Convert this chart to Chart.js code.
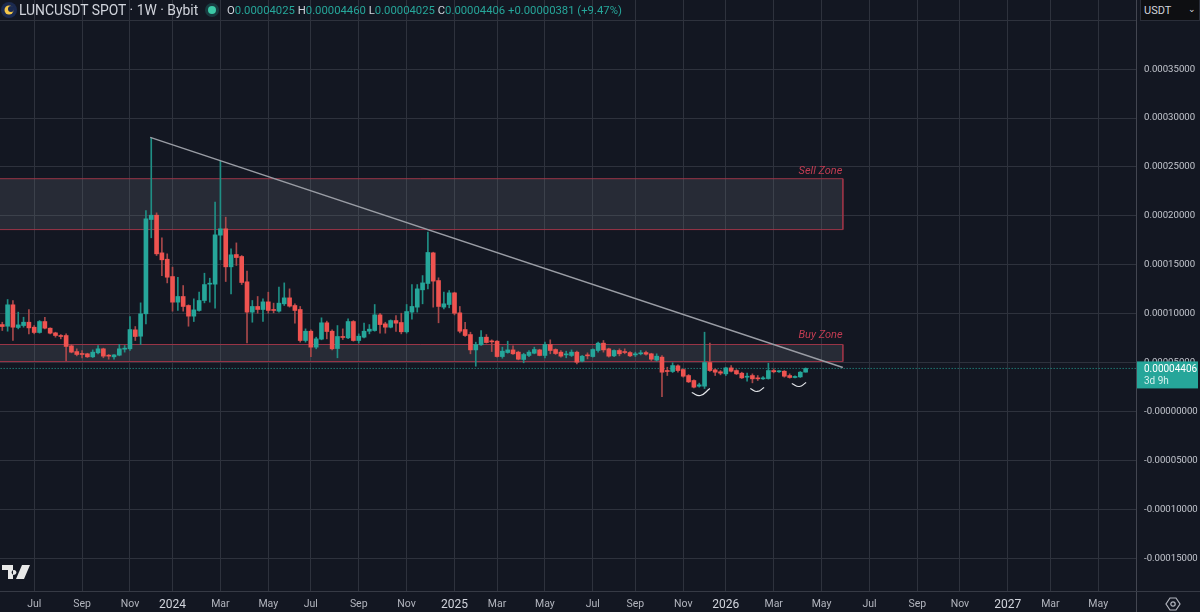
<!DOCTYPE html>
<html lang="en">
<head>
<meta charset="UTF-8">
<title>LUNCUSDT SPOT 1W</title>
<script src="https://cdn.jsdelivr.net/npm/chart.js@4"></script>
<style>
    html, body { margin: 0; padding: 0; background: #131722; }
    body { width: 1200px; height: 612px; overflow: hidden; position: relative; font-family: Roboto, Arial, sans-serif; }
    #chart { position: absolute; left: 0; top: 0; }
    #title { position: absolute; left: 19px; top: 1px; font-size: 13.9px; color: #d1d4dc; white-space: nowrap; line-height: 18px; }
    #legend { position: absolute; left: 227px; top: 2px; font-size: 11.3px; color: #d1d4dc; white-space: nowrap; line-height: 17px; }
    #legend .v { color: #26a69a; }
    #dot { position: absolute; left: 208px; top: 6px; width: 8px; height: 8px; border-radius: 50%; background: #3cc8a6; box-shadow: 0 0 0 3px rgba(38,166,154,.25); }
    #coin { position: absolute; left: 1px; top: 2px; }
    #usdt { position: absolute; left: 1140px; top: -1px; width: 60px; height: 22px; background: #0e0f12; border: 1px solid #2a2e39; box-sizing: border-box; color: #d1d4dc; font-size: 11px; line-height: 21px; padding-left: 3px; }
    #usdt span { position: absolute; right: 3px; top: -1px; font-size: 9px; }
    #vline { position: absolute; left: 1136px; top: 0; width: 1px; height: 612px; background: #434651; }
    #hline { position: absolute; left: 0; top: 591px; width: 1200px; height: 1px; background: #363a45; }
    #tv { position: absolute; left: 2px; top: 565px; }
    #gear { position: absolute; left: 1165px; top: 596px; }
</style>
</head>
<body>
<canvas id="chart" width="1200" height="612"></canvas>
<div id="vline"></div>
<div id="hline"></div>
<svg id="coin" width="16" height="16" viewBox="0 0 16 16"><circle cx="8" cy="8" r="8" fill="#1b2a50"/><circle cx="8" cy="8" r="4.5" fill="#f3c64a"/><circle cx="10" cy="7" r="3" fill="#1b2a50"/></svg>
<div id="title">LUNCUSDT SPOT · 1W · Bybit</div>
<div id="legend">O<span class="v">0.00004025</span> H<span class="v">0.00004460</span> L<span class="v">0.00004025</span> C<span class="v">0.00004406</span> <span class="v">+0.00000381 (+9.47%)</span></div>
<div id="dot"></div>
<div id="usdt">USDT<span>⌄</span></div>
<svg id="tv" width="28" height="15" viewBox="0 0 28 15"><path d="M0 0h11v14H6V5H0z M12 5a2.4 2.4 0 1 0 .01 0z M20 0h8l-6 14h-8z" fill="#e8e8e8"/></svg>
<svg id="gear" width="16" height="16" viewBox="0 0 16 16"><path d="M5 2h6l4 6-4 6H5L1 8z" fill="none" stroke="#b2b5be" stroke-width="1.2"/><circle cx="8" cy="8" r="2.2" fill="none" stroke="#b2b5be" stroke-width="1.2"/></svg>
<script>
// week numbers counted from the first week of 2024, prices in units of 0.00001
const weeks = [-32,-31,-30,-29,-28,-27,-26,-25,-24,-23,-22,-21,-20,-19,-18,-17,-16,-15,-14,-13,-12,-11,-10,-9,-8,-7,-6,-5,-4,-3,-2,-1,
    0,1,2,3,4,5,6,7,8,9,10,11,12,13,14,15,16,17,18,19,20,21,22,23,24,25,26,27,28,29,30,31,32,33,34,35,36,37,38,39,40,41,42,43,44,45,46,47,48,49,50,51,
    52,53,54,55,56,57,58,59,60,61,62,63,64,65,66,67,68,69,70,71,72,73,74,75,76,77,78,79,80,81,82,83,84,85,86,87,88,89,90,91,92,93,94,95,96,97,98,99,
    100,101,102,103,104,105,106,107,108,109,110,111,112,113,114,115,116,117,118,119];

const opens = [8.89,8.72,10.91,8.59,8.79,9.13,8.62,8.08,9.20,8.52,8.04,7.77,7.77,6.71,6.13,5.90,5.90,5.59,6.00,6.41,5.73,5.59,5.76,6.37,6.41,8.35,7.70,9.99,19.63,20.07,16.22,15.57,
    13.80,11.18,11.76,10.84,9.75,10.33,11.35,13.02,13.02,18.03,18.68,14.79,16.05,15.85,13.26,10.16,10.74,10.43,11.21,10.43,10.26,11.01,11.62,10.84,10.43,7.26,8.21,6.58,7.40,9.07,8.21,6.44,7.67,7.53,9.20,7.26,7.60,8.21,8.28,9.88,8.96,8.62,9.30,9.10,8.15,10.16,10.67,12.44,13.09,16.22,13.39,10.67,
    10.94,12.13,10.09,8.38,7.87,6.30,6.82,7.60,7.19,7.19,5.62,6.03,6.30,6.07,5.32,5.73,5.96,6.30,5.73,6.85,6.34,6.07,5.79,5.73,6.07,5.15,5.79,5.62,6.24,6.99,6.41,5.69,6.24,6.10,6.03,5.79,5.90,6.03,5.90,5.25,5.56,4.19,4.09,4.67,4.29,3.68,3.17,2.59,
    2.59,5.01,4.26,4.06,3.85,4.46,4.19,3.92,3.51,3.68,3.44,3.34,3.37,4.19,4.06,4.12,3.68,3.48,3.54,4.025];
const highs = [9.13,11.45,11.35,10.16,9.64,10.43,8.79,9.30,9.64,8.55,8.11,7.87,7.94,6.85,6.41,6.24,5.96,6.30,6.75,6.48,5.83,5.83,6.85,6.75,9.71,8.69,11.11,20.55,27.98,20.31,17.76,16.12,
    14.76,13.73,12.88,10.91,11.52,12.20,14.14,13.63,21.40,25.59,19.87,16.63,17.24,15.95,14.35,11.35,11.76,11.52,12.20,11.08,12.71,13.15,12.54,11.01,10.74,8.45,8.35,7.60,9.58,9.24,8.35,8.79,8.45,9.47,9.30,7.94,9.03,8.89,10.94,10.05,9.13,9.37,9.82,10.05,10.94,12.98,12.98,13.90,18.34,16.29,13.67,12.20,
    12.37,12.20,10.74,9.13,8.11,7.09,8.28,7.87,7.33,7.26,6.58,7.19,6.71,6.17,5.96,6.24,6.58,6.37,7.09,7.33,6.41,6.24,6.17,6.30,6.17,5.73,6.00,6.41,7.09,7.26,6.48,6.30,6.41,6.41,6.13,6.07,6.24,6.17,5.96,5.90,5.73,4.53,4.98,4.77,4.36,3.78,3.24,2.90,
    8.11,6.99,4.36,4.19,4.53,4.70,4.29,4.02,3.92,3.85,3.68,3.58,4.94,4.36,4.19,4.19,3.85,3.65,4.09,4.46];
const lows = [8.28,8.21,7.26,8.45,8.62,7.94,7.94,8.01,8.45,7.94,7.60,7.43,5.21,6.00,5.69,5.49,5.52,5.52,5.90,5.49,5.35,5.35,5.69,6.07,6.24,7.26,6.85,8.96,17.76,15.95,13.90,13.15,
    10.26,10.33,10.26,8.72,9.20,10.26,11.11,11.18,10.56,15.51,13.29,12.03,14.93,12.98,7.02,9.13,10.05,9.20,10.05,10.09,10.16,10.84,10.67,9.03,7.09,7.09,5.62,6.41,7.33,7.43,6.30,5.49,7.36,7.46,7.19,6.99,7.53,7.94,8.21,8.01,8.01,8.55,8.18,7.94,8.01,9.44,10.16,11.01,12.54,10.67,9.07,10.50,
    10.60,9.88,8.04,7.67,5.90,4.63,6.75,6.99,6.13,5.56,5.45,5.96,5.83,5.28,4.98,5.62,5.90,5.69,5.49,5.90,5.83,5.56,5.49,5.62,4.87,5.08,5.38,5.56,6.07,6.07,5.56,5.62,5.69,5.90,5.62,5.62,5.79,5.76,5.21,5.15,1.53,3.68,3.99,4.02,3.51,2.96,2.42,2.49,
    2.35,4.09,3.68,3.75,3.68,4.06,3.78,3.37,3.10,2.93,3.17,3.27,3.31,3.95,3.99,3.51,3.41,3.44,3.48,4.025];
const closes = [8.69,10.91,8.62,8.86,9.13,8.55,8.08,9.20,8.52,8.01,7.77,7.67,6.65,6.07,5.83,5.83,5.59,6.07,6.41,5.66,5.66,5.79,6.41,6.48,8.38,7.67,9.99,19.70,20.07,16.12,15.51,13.73,
    11.18,11.76,10.74,9.75,10.39,11.35,12.98,13.09,18.06,18.68,14.79,16.02,15.74,13.19,10.16,10.74,10.43,11.21,10.33,10.33,11.08,11.62,10.77,10.33,7.26,8.21,6.58,7.43,9.07,8.18,6.41,7.67,7.57,9.20,7.26,7.70,8.21,8.42,9.88,8.89,8.62,9.30,9.03,8.15,10.22,10.74,12.54,13.15,16.26,13.33,10.74,11.01,
    12.13,10.05,8.21,7.77,6.30,6.85,7.60,7.05,7.12,5.62,6.17,6.30,5.90,5.35,5.83,6.07,6.34,5.73,6.85,6.24,5.93,5.66,5.86,6.07,5.04,5.66,5.69,6.34,6.99,6.30,5.66,6.24,5.90,6.03,5.69,5.90,6.00,5.86,5.35,5.66,4.02,4.09,4.70,4.19,3.61,3.03,2.49,2.73,
    5.01,4.19,4.02,3.92,4.46,4.12,3.85,3.44,3.58,3.34,3.34,3.44,4.19,4.06,4.12,3.61,3.48,3.58,4.02,4.406];

const xTickWeeks = [-26,-17,-8,0,9,18,26,35,44,53,61,70,79,87,96,104,113,122,131,140,148,157,165,174];
const xTickLabels = ['Jul','Sep','Nov','2024','Mar','May','Jul','Sep','Nov','2025','Mar','May','Jul','Sep','Nov','2026','Mar','May','Jul','Sep','Nov','2027','Mar','May'];
const yTickValues = [40,35,30,25,20,15,10,5,0,-5,-10,-15];
const yTickLabels = ['','0.00035000','0.00030000','0.00025000','0.00020000','0.00015000','0.00010000','0.00005000','-0.00000000','-0.00005000','-0.00010000','-0.00015000'];

const sellZoneWeeks = [-34,126,126,-34,-34];
const sellZonePrices = [23.8,23.8,18.6,18.6,23.8];
const buyZoneWeeks = [-34,126,126,-34,-34];
const buyZonePrices = [6.85,6.85,5.11,5.11,6.85];
const trendWeeks = [-4.2,126];
const trendPrices = [28.02,4.5];
const priceLineWeeks = [-34,182];
const priceLinePrices = [4.406,4.406];
const arcWeeks = [[97.6,99.2,101],[108.6,109.9,111.2],[116.4,117.8,119.1]];
const arcPrices = [[1.94,1.64,2.35],[2.35,2.05,2.45],[2.86,2.56,2.96]];

const UP = '#26a69a', DOWN = '#ef5350';
const UP_WICK = '#1f8f85', DOWN_WICK = '#a8484a';
const isUp = i => closes[i] >= opens[i];
const isYear = v => xTickLabels[xTickWeeks.indexOf(v)].length === 4;

function pts(xs, ys) {
    return xs.map((x, i) => ({ x: x, y: ys[i] }));
}

function lineSet(xs, ys, color, width, extra) {
    return Object.assign({
        type: 'line', data: pts(xs, ys), borderColor: color, borderWidth: width,
        pointRadius: 0, tension: 0, fill: false, order: 1
    }, extra || {});
}

// price tag on the axis and the two zone labels
const overlay = {
    id: 'overlay',
    afterDraw(chart) {
        const { ctx, scales } = chart;
        const y = scales.y.getPixelForValue(closes[closes.length - 1]);
        ctx.save();
        ctx.fillStyle = UP;
        ctx.fillRect(1137, y - 7, 61, 27);
        ctx.textBaseline = 'middle';
        ctx.textAlign = 'left';
        ctx.font = '10px Roboto';
        ctx.fillStyle = '#ffffff';
        ctx.fillText('0.00004406', 1144, y + 1);
        ctx.fillStyle = '#d6f0ed';
        ctx.fillText('3d 9h', 1144, y + 13);
        ctx.textAlign = 'center';
        ctx.font = 'italic 11px Roboto';
        ctx.fillStyle = '#c23c52';
        ctx.fillText('Sell Zone', scales.x.getPixelForValue(121.8), scales.y.getPixelForValue(24.6));
        ctx.fillText('Buy Zone', scales.x.getPixelForValue(121.8), scales.y.getPixelForValue(7.8));
        ctx.restore();
    }
};

new Chart(document.getElementById('chart'), {
    type: 'bar',
    plugins: [overlay],
    data: {
        datasets: [
            lineSet(sellZoneWeeks, sellZonePrices, '#9a3547', 1, { fill: 'shape', backgroundColor: 'rgba(120,123,134,0.2)', order: 6 }),
            lineSet(buyZoneWeeks, buyZonePrices, '#9a3547', 1, { fill: 'shape', backgroundColor: 'rgba(120,123,134,0.2)', order: 6 }),
            lineSet(priceLineWeeks, priceLinePrices, UP, 1, { borderDash: [1, 2], order: 5 }),
            {
                label: 'wicks',
                data: weeks.map((w, i) => ({ x: w, y: [lows[i], highs[i]] })),
                backgroundColor: ctx => isUp(ctx.dataIndex) ? UP_WICK : DOWN_WICK,
                barThickness: 1, grouped: false, order: 4
            },
            {
                label: 'bodies',
                data: weeks.map((w, i) => ({ x: w, y: [opens[i], closes[i]] })),
                backgroundColor: ctx => isUp(ctx.dataIndex) ? UP : DOWN,
                barThickness: 4, minBarLength: 1, grouped: false, order: 3
            },
            lineSet(trendWeeks, trendPrices, '#9a9da5', 1.4, { order: 2 }),
            ...arcWeeks.map((xs, i) => lineSet(xs, arcPrices[i], '#e4e6ea', 1.2, { tension: 0.5, order: 1 }))
        ]
    },
    options: {
        responsive: false,
        animation: false,
        layout: { padding: 0 },
        plugins: { legend: { display: false }, tooltip: { enabled: false } },
        scales: {
            x: {
                type: 'linear', min: -32.43, max: 181.1, offset: false,
                grid: { color: '#2e323d', offset: false, drawTicks: false },
                border: { display: false },
                afterBuildTicks(axis) { axis.ticks = xTickWeeks.map(v => ({ value: v })); },
                afterFit(axis) { axis.height = 20; axis.paddingLeft = 0; axis.paddingRight = 0; },
                ticks: {
                    autoSkip: false, maxRotation: 0, padding: 6,
                    font: c => c.tick && isYear(c.tick.value) ? { family: 'Roboto', size: 12 } : { family: 'Roboto', size: 10.5 },
                    color: c => c.tick && isYear(c.tick.value) ? '#d1d4dc' : '#b2b5be',
                    callback: v => xTickLabels[xTickWeeks.indexOf(v)]
                }
            },
            y: {
                type: 'linear', position: 'right', min: -18.45, max: 42.07,
                grid: { color: '#2e323d', drawTicks: false },
                border: { display: false },
                afterBuildTicks(axis) { axis.ticks = yTickValues.map(v => ({ value: v })); },
                afterFit(axis) { axis.width = 64; axis.paddingTop = 0; axis.paddingBottom = 0; },
                ticks: {
                    autoSkip: false, crossAlign: 'near', padding: 8,
                    font: { family: 'Roboto', size: 9.6 }, color: '#c3c6ce',
                    callback: v => yTickLabels[yTickValues.indexOf(v)]
                }
            }
        }
    }
});
</script>
</body>
</html>
